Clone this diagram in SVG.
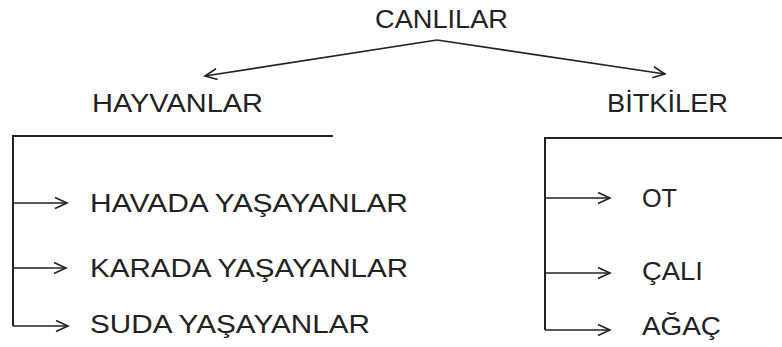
<svg xmlns="http://www.w3.org/2000/svg" width="782" height="347" viewBox="0 0 782 347">
<style>
text{font-family:"Liberation Sans",Arial,sans-serif;font-size:26px;fill:#222;}
.ln{stroke:#222;stroke-width:2;fill:none;}
.ar{stroke:#222;stroke-width:1.6;fill:none;marker-end:url(#ah);}
</style>
<defs>
<marker id="ah" markerWidth="16" markerHeight="14" refX="13" refY="7" orient="auto" markerUnits="userSpaceOnUse">
<path d="M1,1.5 L13,7 L1,12.5" fill="none" stroke="#222" stroke-width="1.6"/>
</marker>
</defs>
<rect width="782" height="347" fill="#fff"/>
<g id="connectors">
<path class="ar" d="M437,40 L205,76"/>
<path class="ar" d="M437,40 L665,74"/>
<path class="ln" d="M333,136 L13,136 L13,326"/>
<path class="ar" d="M13,203 L67,203"/>
<path class="ar" d="M13,268 L66,268"/>
<path class="ar" d="M13,326 L68,326"/>
<path class="ln" d="M782,138 L545,138 L545,330"/>
<path class="ar" d="M545,198 L610,198"/>
<path class="ar" d="M545,273 L610,273"/>
<path class="ar" d="M545,330 L610,330"/>
</g>
<g id="canlilar"><text x="375" y="28" textLength="133" lengthAdjust="spacingAndGlyphs">CANLILAR</text></g>
<g id="hayvanlar"><text x="92" y="112" textLength="171" lengthAdjust="spacingAndGlyphs">HAYVANLAR</text></g>
<g id="bitkiler"><text x="607" y="112" textLength="121" lengthAdjust="spacingAndGlyphs">BİTKİLER</text></g>
<g id="havada"><text x="90" y="212" textLength="318" lengthAdjust="spacingAndGlyphs">HAVADA YAŞAYANLAR</text></g>
<g id="karada"><text x="90" y="277" textLength="318" lengthAdjust="spacingAndGlyphs">KARADA YAŞAYANLAR</text></g>
<g id="suda"><text x="90" y="333" textLength="280" lengthAdjust="spacingAndGlyphs">SUDA YAŞAYANLAR</text></g>
<g id="ot"><text x="642" y="207" textLength="35" lengthAdjust="spacingAndGlyphs">OT</text></g>
<g id="cali"><text x="642" y="280" textLength="61" lengthAdjust="spacingAndGlyphs">ÇALI</text></g>
<g id="agac"><text x="642" y="335" textLength="79" lengthAdjust="spacingAndGlyphs">AĞAÇ</text></g>
</svg>
